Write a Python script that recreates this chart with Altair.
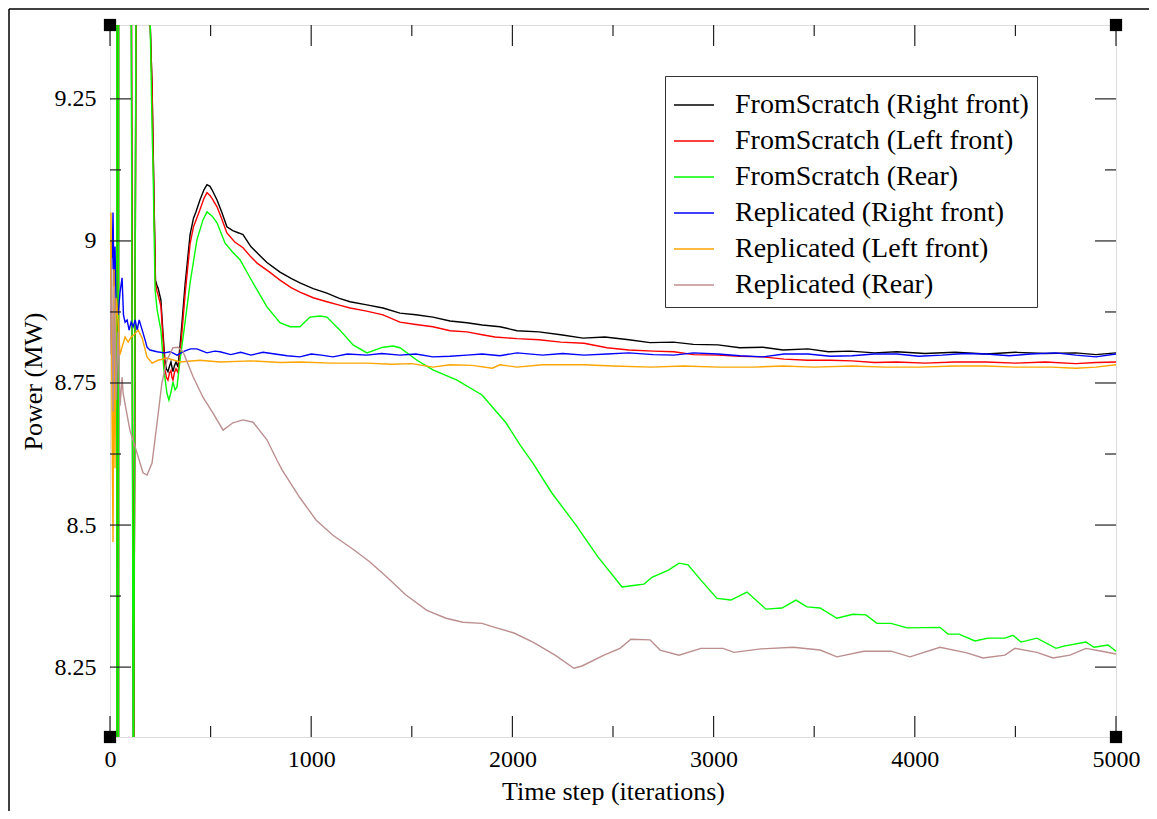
import altair as alt
import pandas as pd

SERIES = [
    "FromScratch (Right front)",
    "FromScratch (Left front)",
    "FromScratch (Rear)",
    "Replicated (Right front)",
    "Replicated (Left front)",
    "Replicated (Rear)",
]
COLORS = ["#000000", "#ff0000", "#00ff00", "#0000ff", "#ffa500", "#bc8f8f"]

# ---- FromScratch (Right front)
t_fs_rf = [0, 30, 38, 46, 105, 117, 131, 195, 200, 209, 219, 226, 233, 239, 253, 263, 273, 280, 288, 296,
           303, 308, 313, 320, 328, 338, 353, 373, 398, 415, 427, 447, 467, 482, 497, 507, 532, 556, 581,
           610, 640, 661, 700, 731, 780, 845, 900, 944, 1010, 1078, 1140, 1193, 1270, 1357, 1441, 1520,
           1605, 1690, 1774, 1850, 1938, 2023, 2132, 2240, 2351, 2460, 2579, 2684, 2800, 2900, 3022, 3130,
           3245, 3345, 3469, 3570, 3678, 3800, 3911, 4050, 4200, 4354, 4500, 4650, 4800, 4900, 5000]
v_fs_rf = [12, 40, -30, 40, 9.6, 8.0, 9.6, 9.6, 9.38, 9.275, 9.072, 8.931, 8.922, 8.917, 8.896, 8.84, 8.79,
           8.775, 8.770, 8.780, 8.787, 8.778, 8.770, 8.780, 8.787, 8.778, 8.835, 8.923, 9.011, 9.040, 9.051,
           9.072, 9.090, 9.099, 9.096, 9.090, 9.072, 9.050, 9.025, 9.018, 9.014, 9.011, 8.990, 8.979, 8.962,
           8.945, 8.934, 8.926, 8.916, 8.908, 8.899, 8.893, 8.888, 8.882, 8.873, 8.870, 8.866, 8.859, 8.856,
           8.852, 8.849, 8.842, 8.840, 8.835, 8.829, 8.831, 8.826, 8.821, 8.822, 8.818, 8.817, 8.812, 8.813,
           8.808, 8.810, 8.805, 8.806, 8.803, 8.805, 8.802, 8.804, 8.801, 8.804, 8.802, 8.803, 8.800, 8.803]

# ---- FromScratch (Left front)
t_fs_lf = [0, 30, 38, 46, 105, 117.5, 131, 195, 200, 209, 219, 226, 233, 239, 253, 263, 273, 280, 288, 296,
           303, 308, 313, 320, 328, 338, 353, 373, 398, 415, 427, 447, 467, 482, 497, 507, 532, 556, 581,
           620, 661, 700, 731, 790, 845, 900, 944, 1010, 1078, 1140, 1193, 1270, 1357, 1441, 1520, 1605,
           1690, 1774, 1850, 1913, 2023, 2132, 2240, 2356, 2470, 2579, 2700, 2803, 2900, 3022, 3130, 3245,
           3350, 3469, 3580, 3688, 3800, 3911, 4050, 4200, 4354, 4500, 4650, 4800, 4900, 5000]
v_fs_lf = [12, 40, -30, 40, 9.62, 8.0, 9.62, 9.6, 9.38, 9.27, 9.065, 8.925, 8.912, 8.905, 8.885, 8.83, 8.775,
           8.76, 8.755, 8.768, 8.772, 8.760, 8.755, 8.768, 8.775, 8.768, 8.82, 8.905, 8.995, 9.025, 9.036,
           9.055, 9.075, 9.085, 9.080, 9.075, 9.060, 9.038, 9.014, 8.998, 8.988, 8.972, 8.961, 8.946, 8.931,
           8.918, 8.910, 8.900, 8.893, 8.887, 8.882, 8.877, 8.870, 8.857, 8.853, 8.849, 8.842, 8.840, 8.835,
           8.831, 8.828, 8.826, 8.822, 8.820, 8.812, 8.808, 8.806, 8.805, 8.800, 8.799, 8.797, 8.796, 8.792,
           8.790, 8.790, 8.789, 8.786, 8.787, 8.785, 8.787, 8.787, 8.785, 8.787, 8.784, 8.786, 8.787]

# ---- FromScratch (Rear)
t_fs_r = [0, 30, 38, 46, 104, 116.5, 130.5, 195, 200, 204, 209, 214, 219, 224, 234, 253, 268, 283, 293, 303,
          313, 323, 333, 348, 368, 398, 432, 462, 482, 507, 532, 572, 610, 646, 711, 780, 845, 895, 944, 994,
          1044, 1078, 1143, 1208, 1277, 1357, 1407, 1441, 1526, 1605, 1725, 1849, 1968, 2038, 2102, 2197,
          2316, 2425, 2545, 2610, 2654, 2694, 2778, 2828, 2873, 2937, 3017, 3086, 3166, 3260, 3340, 3409,
          3464, 3529, 3613, 3693, 3757, 3812, 3882, 3961, 4125, 4165, 4220, 4299, 4364, 4448, 4488, 4528,
          4607, 4702, 4741, 4851, 4891, 4960, 5000]
v_fs_r = [12, 40, -30, 40, 9.6, 7.95, 9.6, 9.6, 9.38, 9.30, 9.20, 9.13, 9.02, 8.914, 8.879, 8.843, 8.773,
          8.732, 8.720, 8.734, 8.752, 8.738, 8.743, 8.790, 8.843, 8.926, 9.002, 9.037, 9.051, 9.044, 9.032,
          8.996, 8.980, 8.967, 8.926, 8.884, 8.856, 8.849, 8.849, 8.866, 8.868, 8.866, 8.843, 8.817, 8.803,
          8.813, 8.815, 8.812, 8.790, 8.773, 8.755, 8.729, 8.680, 8.641, 8.609, 8.556, 8.500, 8.444, 8.391,
          8.394, 8.396, 8.408, 8.421, 8.433, 8.430, 8.403, 8.371, 8.368, 8.382, 8.352, 8.354, 8.368, 8.356,
          8.354, 8.336, 8.343, 8.342, 8.327, 8.327, 8.319, 8.320, 8.308, 8.308, 8.296, 8.301, 8.301, 8.306,
          8.294, 8.301, 8.283, 8.287, 8.294, 8.285, 8.289, 8.278]

# ---- Replicated (Right front)
t_rp_rf = [0, 5, 10, 15, 20, 25, 30, 40, 50, 60, 67, 75, 85, 95, 105, 115, 125, 135, 145, 160, 175, 184, 199,
           234, 270, 300, 333, 370, 400, 432, 460, 482, 520, 547, 600, 650, 700, 760, 820, 880, 944, 1000,
           1050, 1108, 1180, 1277, 1350, 1441, 1520, 1605, 1690, 1774, 1850, 1938, 2023, 2150, 2250, 2356,
           2470, 2579, 2700, 2803, 2900, 3022, 3130, 3245, 3350, 3469, 3580, 3688, 3800, 3911, 4020, 4135,
           4250, 4354, 4470, 4577, 4700, 4801, 4900, 5000]
v_rp_rf = [8.85, 9.00, 8.95, 9.05, 8.92, 8.99, 8.88, 8.87, 8.91, 8.935, 8.87, 8.857, 8.861, 8.843, 8.857,
           8.849, 8.861, 8.843, 8.861, 8.843, 8.825, 8.813, 8.808, 8.805, 8.803, 8.805, 8.799, 8.806, 8.810,
           8.810, 8.806, 8.803, 8.806, 8.805, 8.800, 8.804, 8.799, 8.804, 8.801, 8.798, 8.796, 8.801, 8.799,
           8.796, 8.801, 8.799, 8.802, 8.799, 8.801, 8.796, 8.797, 8.799, 8.801, 8.798, 8.803, 8.799, 8.802,
           8.799, 8.801, 8.803, 8.800, 8.799, 8.803, 8.801, 8.798, 8.796, 8.801, 8.801, 8.797, 8.798, 8.801,
           8.801, 8.797, 8.799, 8.802, 8.801, 8.798, 8.801, 8.803, 8.799, 8.796, 8.801]

# ---- Replicated (Left front)
t_rp_lf = [0, 5, 10, 15, 20, 25, 30, 40, 50, 60, 75, 90, 105, 120, 140, 160, 184, 209, 239, 283, 348, 447,
           547, 700, 850, 944, 1100, 1277, 1400, 1500, 1605, 1690, 1800, 1900, 1938, 2023, 2150, 2356, 2500,
           2690, 2850, 3022, 3200, 3345, 3500, 3688, 3850, 4020, 4200, 4354, 4500, 4680, 4801, 4900, 5000]
v_rp_lf = [8.85, 9.05, 8.70, 8.47, 8.95, 8.60, 8.90, 8.86, 8.80, 8.813, 8.831, 8.822, 8.831, 8.835, 8.843,
           8.829, 8.796, 8.785, 8.790, 8.794, 8.787, 8.790, 8.787, 8.789, 8.786, 8.787, 8.785, 8.785, 8.783,
           8.784, 8.778, 8.782, 8.781, 8.776, 8.782, 8.778, 8.782, 8.782, 8.780, 8.778, 8.780, 8.778, 8.778,
           8.780, 8.778, 8.780, 8.778, 8.778, 8.780, 8.780, 8.778, 8.778, 8.776, 8.778, 8.782]

# ---- Replicated (Rear)
t_rp_r = [0, 8, 15, 22, 30, 40, 50, 60, 65, 99, 134, 164, 184, 209, 234, 258, 283, 313, 338, 363, 413, 462,
          512, 562, 611, 661, 711, 780, 830, 855, 944, 1024, 1108, 1213, 1292, 1377, 1471, 1575, 1670, 1754,
          1849, 1913, 2008, 2102, 2212, 2306, 2346, 2455, 2535, 2589, 2684, 2734, 2828, 2937, 3047, 3101,
          3235, 3395, 3529, 3613, 3747, 3882, 3976, 4125, 4259, 4339, 4448, 4498, 4607, 4687, 4771, 4851,
          4930, 5000]
v_rp_r = [8.80, 8.97, 8.70, 8.92, 8.72, 8.84, 8.71, 8.76, 8.732, 8.667, 8.627, 8.592, 8.588, 8.609, 8.680,
          8.750, 8.790, 8.812, 8.813, 8.805, 8.761, 8.725, 8.697, 8.667, 8.680, 8.685, 8.681, 8.650, 8.614,
          8.597, 8.548, 8.509, 8.482, 8.456, 8.435, 8.408, 8.377, 8.350, 8.336, 8.329, 8.327, 8.320, 8.310,
          8.294, 8.271, 8.248, 8.252, 8.271, 8.283, 8.299, 8.298, 8.280, 8.271, 8.283, 8.283, 8.276, 8.282,
          8.285, 8.280, 8.268, 8.278, 8.278, 8.268, 8.285, 8.275, 8.266, 8.271, 8.283, 8.276, 8.266, 8.271,
          8.283, 8.278, 8.273]

X_DOMAIN = [0, 5000]
Y_DOMAIN = [8.127, 9.380]
X_MAJOR = [0, 1000, 2000, 3000, 4000, 5000]
X_MINOR = [500, 1500, 2500, 3500, 4500]
Y_MAJOR = [8.25, 8.5, 8.75, 9, 9.25]
Y_MINOR = [8.375, 8.625, 8.875, 9.125]

W, H = 1006, 712
FONT = "Liberation Serif"

all_t = [t_fs_rf, t_fs_lf, t_fs_r, t_rp_rf, t_rp_lf, t_rp_r]
all_v = [v_fs_rf, v_fs_lf, v_fs_r, v_rp_rf, v_rp_lf, v_rp_r]
rows = []
for name, ts, vs in zip(SERIES, all_t, all_v):
    for t, v in zip(ts, vs):
        rows.append({"series": name, "t": t, "v": v})
df = pd.DataFrame(rows)

xs = alt.Scale(domain=X_DOMAIN, nice=False, zero=False)
ys = alt.Scale(domain=Y_DOMAIN, nice=False, zero=False)

X_AXIS = alt.Axis(title="Time step (iterations)", values=X_MAJOR, labelExpr="format(datum.value, 'd')",
                  ticks=False, domain=False, grid=False, labelFont=FONT, labelFontSize=24, labelColor="black",
                  labelPadding=10, labelFlush=False, labelOverlap=False, titleFont=FONT, titleFontSize=26,
                  titleFontWeight="normal", titleColor="black", titlePadding=7)
Y_AXIS = alt.Axis(title="Power (MW)", values=Y_MAJOR, labelExpr="format(datum.value, '~g')", ticks=False,
                  domain=False, grid=False, labelFont=FONT, labelFontSize=24, labelColor="black",
                  labelPadding=14, labelFlush=False, labelOverlap=False, titleFont=FONT, titleFontSize=26,
                  titleFontWeight="normal", titleColor="black", titlePadding=8)

LEGEND = alt.Legend(orient="none", legendX=555, legendY=51, title=None, symbolType="stroke",
                    symbolSize=1600, symbolStrokeWidth=1.5, labelFont=FONT, labelFontSize=28,
                    labelColor="black", labelLimit=500, labelOffset=20, rowPadding=1, padding=8,
                    strokeColor="#333333", fillColor="white")

color = alt.Color("series:N", scale=alt.Scale(domain=SERIES, range=COLORS), legend=LEGEND)

layers = []
for name in SERIES:
    layers.append(
        alt.Chart(df).transform_filter(alt.datum.series == name)
        .mark_line(clip=True, strokeWidth=1.4)
        .encode(x=alt.X("t:Q", scale=xs, axis=X_AXIS), y=alt.Y("v:Q", scale=ys, axis=Y_AXIS),
                color=color, order="t:Q")
    )

tick_color = "#222222"
xmaj = pd.DataFrame({"t": X_MAJOR})
xmin = pd.DataFrame({"t": X_MINOR})
ymaj = pd.DataFrame({"v": Y_MAJOR})
ymin = pd.DataFrame({"v": Y_MINOR})


def xtick(data, length, bottom):
    y0 = H if bottom else 0
    y1 = H - length if bottom else length
    return alt.Chart(data).mark_rule(color=tick_color, strokeWidth=1.2).encode(
        x=alt.X("t:Q", scale=xs, axis=X_AXIS), y=alt.value(y0), y2=alt.value(y1))


def ytick(data, length, left):
    x0 = 0 if left else W
    x1 = length if left else W - length
    return alt.Chart(data).mark_rule(color=tick_color, strokeWidth=1.2).encode(
        y=alt.Y("v:Q", scale=ys, axis=Y_AXIS), x=alt.value(x0), x2=alt.value(x1))


ticks = [xtick(xmaj, 21, True), xtick(xmaj, 21, False), xtick(xmin, 11, True), xtick(xmin, 11, False),
         ytick(ymaj, 21, True), ytick(ymaj, 21, False), ytick(ymin, 11, True), ytick(ymin, 11, False)]

corners = pd.DataFrame({"t": [X_DOMAIN[0], X_DOMAIN[0], X_DOMAIN[1], X_DOMAIN[1]],
                        "v": [Y_DOMAIN[0], Y_DOMAIN[1], Y_DOMAIN[0], Y_DOMAIN[1]]})
corner_marks = alt.Chart(corners).mark_square(size=150, color="black", opacity=1, filled=True).encode(
    x=alt.X("t:Q", scale=xs, axis=X_AXIS), y=alt.Y("v:Q", scale=ys, axis=Y_AXIS))

one = pd.DataFrame({"a": [0]})
border_left = alt.Chart(one).mark_rule(color="black", strokeWidth=1.5).encode(
    x=alt.value(-101), y=alt.value(-16), y2=alt.value(H + 74))
border_top = alt.Chart(one).mark_rule(color="black", strokeWidth=1.5).encode(
    x=alt.value(-101), x2=alt.value(W + 33), y=alt.value(-16))

chart = alt.layer(*layers, *ticks, corner_marks, border_left, border_top).properties(
    width=W, height=H,
    autosize=alt.AutoSizeParams(type="none"),
    padding={"left": 102, "top": 17, "right": 33, "bottom": 74},
).configure_view(stroke="#555555", strokeWidth=1.5).configure(background="white")

chart.save("out.html", embed_options={"renderer": "svg", "actions": False})
